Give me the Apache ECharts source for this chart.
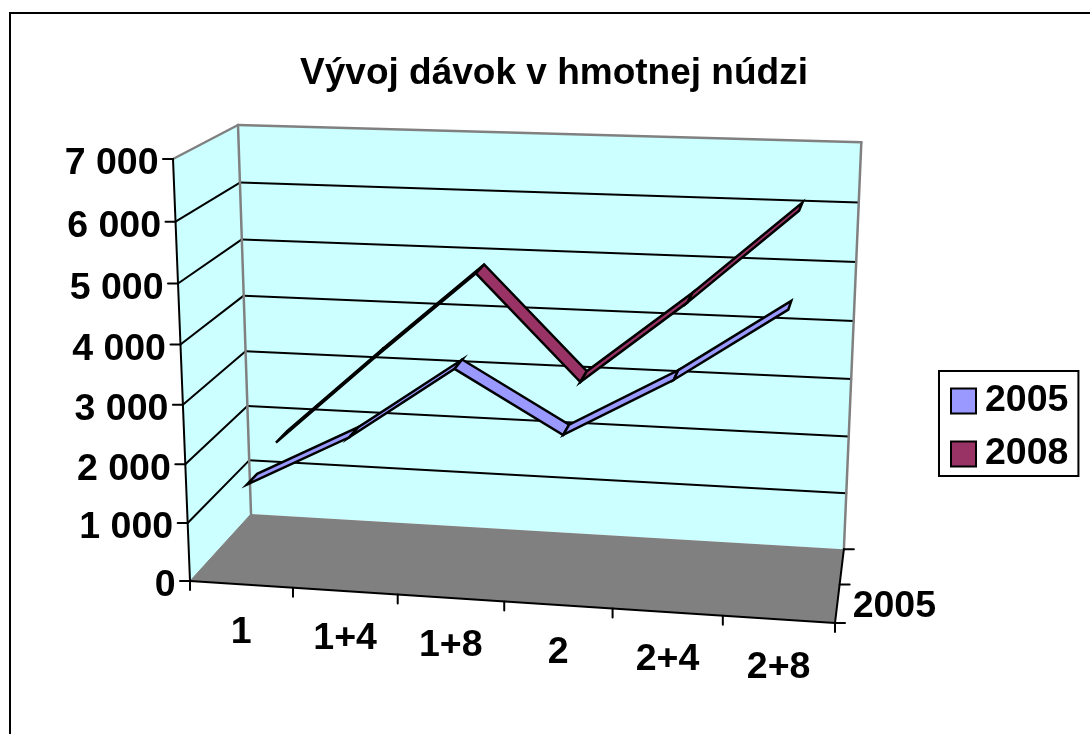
<!DOCTYPE html>
<html><head><meta charset="utf-8">
<style>html,body{margin:0;padding:0;background:#fff}#c{width:1090px;height:734px}</style>
<script src="https://cdn.jsdelivr.net/npm/echarts@6/dist/echarts.min.js"></script>
</head><body><div id="c"></div>
<script>
const categories = ['1','1+4','1+8','2','2+4','2+8'];
const values2005 = [1550,2450,3675,2675,3665,4865];
const values2008 = [1750,3320,4845,3075,4500,6075];
const yTicks = [0,1000,2000,3000,4000,5000,6000,7000];
const yTickLabels = ['0','1 000','2 000','3 000','4 000','5 000','6 000','7 000'];
const depthLabel = '2005';
const titleText = 'Vývoj dávok v hmotnej núdzi';

// Projective camera fitted to the picture's box corners (u: categories, v: values, w: depth)
const O=[190,581], X=[835,623], Y=[173,159], Z=[251,514], BTL=[238,125];
function solve2(a,b,e,c,d,f){const D=a*d-b*c;return [(e*d-b*f)/D,(a*f-e*c)/D];}
const [pb,pc]=solve2(Y[0]-BTL[0],Z[0]-BTL[0],BTL[0]+O[0]-Y[0]-Z[0],
                     Y[1]-BTL[1],Z[1]-BTL[1],BTL[1]+O[1]-Y[1]-Z[1]);
const pa=-0.05;
function proj(u,v,w){
  const d=1+pa*u+pb*v+pc*w;
  const f=k=>((X[k]*(1+pa)-O[k])*u+(Y[k]*(1+pb)-O[k])*v+(Z[k]*(1+pc)-O[k])*w+O[k])/d;
  return [f(0)+5*u*v*w,f(1)];
}
const G={left:100,top:100,width:600,height:400};
const BLACK='#000', GRAY='#808080', WALL='#CCFFFF';
const font='bold 37.5px "Liberation Sans", Arial, sans-serif';
function toUV(p){return [(p[0]-G.left)/G.width,(G.top+G.height-p[1])/G.height];}
function line(a,b,c,w){return {type:'line',shape:{x1:a[0],y1:a[1],x2:b[0],y2:b[1]},style:{stroke:c,lineWidth:w,lineCap:'round'}};}
function poly(pts,fill,stroke,w){return {type:'polygon',shape:{points:pts},style:{fill:fill,stroke:stroke||null,lineWidth:w||0,lineJoin:'miter'}};}
function txt(s,p,al){return {type:'text',style:{text:s,x:p[0],y:p[1],align:al,verticalAlign:'middle',font:font,fill:BLACK}};}

function renderFrame(params,api){
  const ch=[], n=categories.length;
  const vOf=t=>toUV(api.coord([0,t]))[1];
  const top=vOf(yTicks[yTicks.length-1]);
  ch.push(poly([proj(0,0,0),proj(0,top,0),proj(0,top,1),proj(0,0,1)],WALL));
  ch.push(poly([proj(0,0,1),proj(0,top,1),proj(1,top,1),proj(1,0,1)],WALL));
  ch.push(poly([proj(0,0,0),proj(0,0,1),proj(1,0,1),proj(1,0,0)],GRAY));
  yTicks.forEach((t,i)=>{
    const v=vOf(t);
    if(i>0&&i<yTicks.length-1){
      ch.push(line(proj(0,v,0),proj(0,v,1),BLACK,2));
      ch.push(line(proj(0,v,1),proj(1,v,1),BLACK,2));
    }
  });
  ch.push(line(proj(0,top,0),proj(0,top,1),GRAY,2.5));
  ch.push(line(proj(0,top,1),proj(1,top,1),GRAY,2.5));
  ch.push(line(proj(0,0,1),proj(0,top,1),GRAY,2.5));
  ch.push(line(proj(1,0,1),proj(1,top,1),GRAY,2.5));
  ch.push(line(proj(0,0,0),proj(0,0,1),GRAY,1));
  // axes
  ch.push(line(proj(0,0,0),proj(0,top,0),BLACK,2));
  ch.push(line(proj(0,0,0),proj(1,0,0),BLACK,2));
  ch.push(line(proj(1,0,0),proj(1,0,1),BLACK,2));
  yTicks.forEach((t,i)=>{
    const p=proj(0,vOf(t),0);
    ch.push(line([p[0]-10,p[1]],p,BLACK,2));
    ch.push(txt(yTickLabels[i],[p[0]-14.5,p[1]+5],'right'));
  });
  for(let k=0;k<=n;k++){
    const p=proj(k/n,0,0);
    ch.push(line(p,[p[0],p[1]+9],BLACK,2));
  }
  categories.forEach((c,i)=>{
    const p=proj((i+.5)/n,0,0);
    ch.push(txt(c,[p[0],p[1]+48],'center'));
  });
  [0,.5,1].forEach(w=>{
    const p=proj(1,0,w);
    ch.push(line(p,[p[0]+10,p[1]],BLACK,2));
  });
  const dp=proj(1,0,.5);
  ch.push(txt(depthLabel,[dp[0]+13,dp[1]+22],'left'));
  return {type:'group',children:ch};
}
function ribbon(values,w0,w1,color){
  return function(params,api){
    const i=params.dataIndex;
    if(i>=values.length-1) return null;
    const a=toUV(api.coord([i,values[i]])), b=toUV(api.coord([i+1,values[i+1]]));
    return poly([proj(a[0],a[1],w0),proj(b[0],b[1],w0),proj(b[0],b[1],w1),proj(a[0],a[1],w1)],color,BLACK,2.5);
  };
}
const chart=echarts.init(document.getElementById('c'),null,{renderer:'canvas'});
chart.setOption({
  animation:false,
  backgroundColor:'#fff',
  title:{text:titleText,left:549,top:50,textAlign:'center',
    textStyle:{fontFamily:'"Liberation Sans", Arial, sans-serif',fontWeight:'bold',fontSize:37,color:'#000'}},
  legend:{data:['2005','2008'],orient:'vertical',left:939,top:371,padding:[11,10,3,11],itemWidth:25,itemHeight:25,itemGap:15,
    borderColor:'#000',borderWidth:2,backgroundColor:'#fff',borderRadius:0,icon:'rect',
    textStyle:{fontFamily:'"Liberation Sans", Arial, sans-serif',fontWeight:'bold',fontSize:37.5,color:'#000',padding:[0,0,0,4]},
    itemStyle:{borderColor:'#000',borderWidth:2}},
  grid:G,
  xAxis:{type:'category',data:categories,show:false},
  yAxis:{type:'value',min:0,max:7000,interval:1000,show:false},
  graphic:[
    {type:'line',shape:{x1:9,y1:13,x2:1090,y2:13},style:{stroke:'#000',lineWidth:2}},
    {type:'line',shape:{x1:10,y1:13,x2:10,y2:734},style:{stroke:'#000',lineWidth:2}}
  ],
  series:[
    {type:'custom',name:'frame',data:[[0,0]],renderItem:renderFrame,silent:true,z:1,clip:false},
    {type:'custom',name:'2008',data:values2008.map((v,i)=>[i,v]),renderItem:ribbon(values2008,.64,.84,'#993366'),itemStyle:{color:'#993366'},z:2,clip:false},
    {type:'custom',name:'2005',data:values2005.map((v,i)=>[i,v]),renderItem:ribbon(values2005,.14,.31,'#9999FF'),itemStyle:{color:'#9999FF'},z:3,clip:false}
  ]
});
</script></body></html>
